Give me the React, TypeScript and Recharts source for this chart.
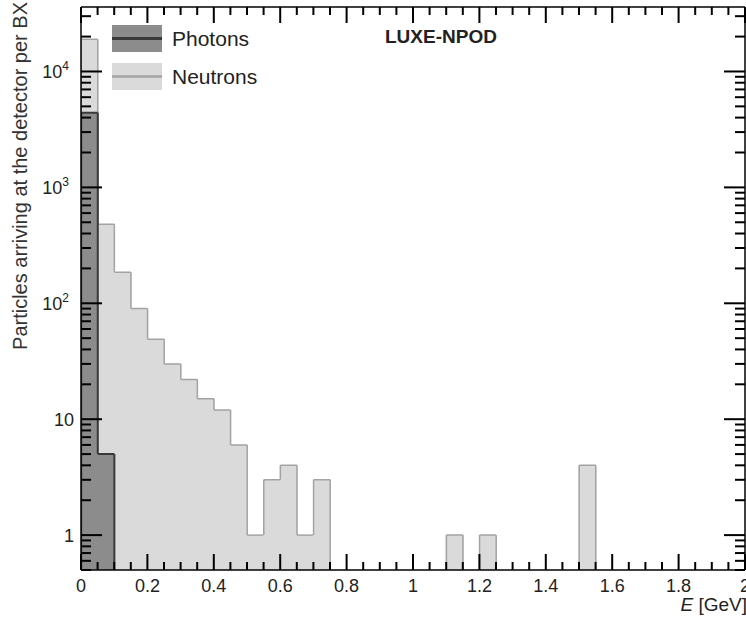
import React from 'react';
import { ComposedChart, Bar, XAxis, YAxis, Legend } from 'recharts';

// histogram bins, 0.05 GeV wide, 0 .. 2 GeV
const BIN_WIDTH = 0.05;
const BIN_CENTER = Array.from({ length: 40 }, (_, i) => +((i + 0.5) * BIN_WIDTH).toFixed(3));

const NEUTRONS = [
  19000, 480, 185, 90, 49, 30, 22, 15, 12, 6,
  1, 3, 4, 1, 3, 0, 0, 0, 0, 0,
  0, 0, 1, 0, 1, 0, 0, 0, 0, 0,
  4, 0, 0, 0, 0, 0, 0, 0, 0, 0,
];
const PHOTONS = [
  4400, 5, 0, 0, 0, 0, 0, 0, 0, 0,
  0, 0, 0, 0, 0, 0, 0, 0, 0, 0,
  0, 0, 0, 0, 0, 0, 0, 0, 0, 0,
  0, 0, 0, 0, 0, 0, 0, 0, 0, 0,
];

const X_DOMAIN: [number, number] = [0, 2];
const X_LABELS = [0, 0.2, 0.4, 0.6, 0.8, 1, 1.2, 1.4, 1.6, 1.8, 2];
const X_TICKS = Array.from({ length: 41 }, (_, i) => +(i * 0.05).toFixed(2));
const Y_LABELS = [1, 10, 100, 1000, 10000];
const Y_DOMAIN: [number, number] = [0.5, 36000];
const Y_TICKS: number[] = [];
[0.1, 1, 10, 100, 1000, 10000].forEach((d) => {
  for (let m = 1; m <= 9; m++) {
    const v = +(m * d).toPrecision(6);
    if (v >= Y_DOMAIN[0] && v <= Y_DOMAIN[1]) Y_TICKS.push(v);
  }
});
const SUPERSCRIPT: Record<number, string> = { 100: '2', 1000: '3', 10000: '4' };

const STYLE: Record<string, { fill: string; line: string; lw: number }> = {
  Photons: { fill: '#8c8c8c', line: '#3a3a3a', lw: 2 },
  Neutrons: { fill: '#dadada', line: '#a3a3a3', lw: 1.5 },
};
const LEGEND_ORDER = ['Photons', 'Neutrons'];

const data = BIN_CENTER.map((c, i) => ({
  center: c,
  neutrons: NEUTRONS[i] > 0 ? NEUTRONS[i] : null,
  photons: PHOTONS[i] > 0 ? PHOTONS[i] : null,
}));

const AXIS_LINE = { stroke: '#000', strokeWidth: 1.5 };
const TICK_COLOR = '#000';
const PLOT_W = 746 - 81 - 1;
const BIN_PX = (PLOT_W * BIN_WIDTH) / (X_DOMAIN[1] - X_DOMAIN[0]);

// filled bin plus only the outer step contour (no inner edges between bins);
// the bar is re-centred on the library's x position with the full bin width
const stepShape = (values: number[], fill: string, stroke: string, sw: number) => (props: any) => {
  const { x, y, width, height, payload } = props;
  const index = BIN_CENTER.indexOf(payload?.center);
  const v = values[index];
  if (index < 0 || !v || !(height > 0)) return <g />;
  const x0 = x + width / 2 - BIN_PX / 2;
  const x1 = x0 + BIN_PX;
  const base = y + height;
  const k = height / Math.log10(v / Y_DOMAIN[0]);
  const topOf = (n?: number) => (n && n > 0 ? base - k * Math.log10(n / Y_DOMAIN[0]) : base);
  const prevTop = topOf(values[index - 1]);
  const nextTop = topOf(values[index + 1]);
  let d = `M${x0},${y}H${x1}`;
  if (nextTop > y) d += `M${x1},${y}V${nextTop}`;
  if (prevTop > y) d += `M${x0},${y}V${prevTop}`;
  return (
    <g>
      <rect x={x0 - 0.5} y={y} width={BIN_PX + 1} height={height} fill={fill} />
      <path d={d} stroke={stroke} strokeWidth={sw} fill="none" />
    </g>
  );
};

const isMajorX = (v: number) => Math.abs(v / 0.2 - Math.round(v / 0.2)) < 1e-6;

const BottomTick = (props: any) => {
  const { x, y, payload } = props;
  const v = payload.value;
  const major = isMajorX(v);
  return (
    <g>
      <line x1={x} x2={x} y1={y} y2={y - (major ? 16 : 8)} stroke={TICK_COLOR} strokeWidth={2} />
      {major && X_LABELS.includes(+v.toFixed(1)) && (
        <text x={x} y={y + 22} textAnchor="middle" fontSize={18} fill="#222">
          {String(Math.round(v * 10) / 10)}
        </text>
      )}
    </g>
  );
};

const TopTick = (props: any) => {
  const { x, y, payload } = props;
  const major = isMajorX(payload.value);
  return <line x1={x} x2={x} y1={y} y2={y + (major ? 16 : 8)} stroke={TICK_COLOR} strokeWidth={2} />;
};

const LeftTick = (props: any) => {
  const { x, y, payload } = props;
  const v = payload.value;
  const major = Y_LABELS.includes(v);
  const sup = SUPERSCRIPT[v];
  return (
    <g>
      <line x1={x} x2={x + (major ? 21 : 10)} y1={y} y2={y} stroke={TICK_COLOR} strokeWidth={2} />
      {major && (
        <text x={sup ? x - 12 : x - 7} y={y + 6.5} textAnchor="end" fontSize={18} fill="#222">
          {sup ? '10' : String(v)}
          {sup && (
            <tspan fontSize={12} dy={-8}>
              {sup}
            </tspan>
          )}
        </text>
      )}
    </g>
  );
};

const RightTick = (props: any) => {
  const { x, y, payload } = props;
  const major = Y_LABELS.includes(payload.value);
  return <line x1={x} x2={x - (major ? 21 : 10)} y1={y} y2={y} stroke={TICK_COLOR} strokeWidth={2} />;
};

const LegendBox = (props: any) => {
  const items = [...(props.payload || [])].sort(
    (a: any, b: any) => LEGEND_ORDER.indexOf(a.value) - LEGEND_ORDER.indexOf(b.value)
  );
  return (
    <div style={{ display: 'flex', flexDirection: 'column', gap: 11 }}>
      {items.map((it: any) => {
        const s = STYLE[it.value];
        return (
          <div key={it.value} style={{ display: 'flex', alignItems: 'center', height: 27 }}>
            <svg width={50} height={27}>
              <rect x={0} y={0} width={50} height={27} fill={s.fill} />
              <line x1={0} x2={50} y1={13.5} y2={13.5} stroke={s.line} strokeWidth={s.lw + 1} />
            </svg>
            <span style={{ marginLeft: 10, fontSize: 21, color: '#222', lineHeight: '27px' }}>{it.value}</span>
          </div>
        );
      })}
    </div>
  );
};

export default function App() {
  return (
    <div
      style={{
        position: 'absolute',
        left: 0,
        top: 0,
        width: 746,
        height: 619,
        background: '#fff',
        fontFamily: '"Liberation Sans", Arial, Helvetica, sans-serif',
      }}
    >
      <ComposedChart
        width={746}
        height={619}
        data={data}
        margin={{ top: 6, right: 0, bottom: 0, left: 0 }}
        barCategoryGap={0}
        barGap={0}
      >
        <XAxis
          xAxisId="e"
          dataKey="center"
          type="number"
          domain={X_DOMAIN}
          allowDataOverflow
          ticks={X_TICKS}
          interval={0}
          tickSize={0}
          tickMargin={0}
          tickLine={false}
          axisLine={AXIS_LINE}
          height={49}
          tick={(p: any) => <BottomTick {...p} />}
        />
        <XAxis
          xAxisId="top"
          dataKey="center"
          orientation="top"
          type="number"
          domain={X_DOMAIN}
          allowDataOverflow
          ticks={X_TICKS}
          interval={0}
          tickSize={0}
          tickMargin={0}
          tickLine={false}
          axisLine={AXIS_LINE}
          height={1}
          tick={(p: any) => <TopTick {...p} />}
        />
        <YAxis
          yAxisId="l"
          type="number"
          scale="log"
          domain={Y_DOMAIN}
          allowDataOverflow
          ticks={Y_TICKS}
          interval={0}
          tickSize={0}
          tickMargin={0}
          tickLine={false}
          axisLine={AXIS_LINE}
          width={81}
          tick={(p: any) => <LeftTick {...p} />}
        />
        <YAxis
          yAxisId="r"
          orientation="right"
          type="number"
          scale="log"
          domain={Y_DOMAIN}
          allowDataOverflow
          ticks={Y_TICKS}
          interval={0}
          tickSize={0}
          tickMargin={0}
          tickLine={false}
          axisLine={AXIS_LINE}
          width={1}
          tick={(p: any) => <RightTick {...p} />}
        />
        <Bar
          xAxisId="e"
          yAxisId="l"
          dataKey="neutrons"
          name="Neutrons"
          fill={STYLE.Neutrons.fill}
          barSize={BIN_PX}
          isAnimationActive={false}
          shape={stepShape(NEUTRONS, STYLE.Neutrons.fill, STYLE.Neutrons.line, STYLE.Neutrons.lw)}
        />
        <Bar
          xAxisId="top"
          yAxisId="r"
          dataKey="photons"
          name="Photons"
          fill={STYLE.Photons.fill}
          barSize={BIN_PX}
          isAnimationActive={false}
          shape={stepShape(PHOTONS, STYLE.Photons.fill, STYLE.Photons.line, STYLE.Photons.lw)}
        />
        <Legend
          layout="vertical"
          align="center"
          verticalAlign="middle"
          width={200}
          wrapperStyle={{ top: 25, left: 112 }}
          content={(p: any) => <LegendBox {...p} />}
        />
        <text x={385} y={43} fontSize={19} fontWeight="bold" fill="#222">
          LUXE-NPOD
        </text>
        <text transform="translate(27,2) rotate(-90)" textAnchor="end" fontSize={20} fill="#333">
          Particles arriving at the detector per BX
        </text>
        <text x={747} y={611} textAnchor="end" fontSize={19} fill="#222">
          <tspan fontStyle="italic">E</tspan> [GeV]
        </text>
      </ComposedChart>
    </div>
  );
}
